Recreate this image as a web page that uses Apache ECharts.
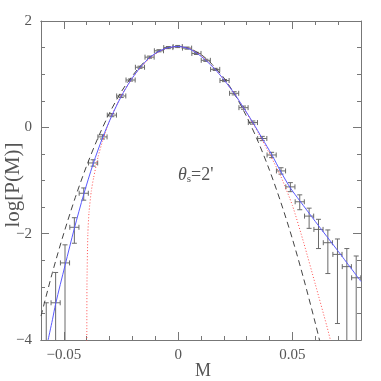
<!DOCTYPE html>
<html>
<head>
<meta charset="utf-8">
<script src="https://cdn.jsdelivr.net/npm/echarts@6/dist/echarts.min.js"></script>
<style>
  html, body { margin: 0; padding: 0; background: #fff; }
  #chart { width: 381px; height: 381px; }
</style>
</head>
<body>
<div id="chart"></div>
<script>
// binned measurements of log P(M)
const binM = [-0.0577, -0.0536, -0.0495, -0.0454, -0.0413, -0.0372, -0.0331, -0.0290, -0.0249, -0.0208,
  -0.0167, -0.0125, -0.0084, -0.0043, -0.0002, 0.0039, 0.0080, 0.0121, 0.0162, 0.0203,
  0.0245, 0.0286, 0.0327, 0.0368, 0.0409, 0.0450, 0.0491, 0.0532, 0.0573, 0.0614,
  0.0655, 0.0697, 0.0738, 0.0779]
const logP = [-4.40, -3.30, -2.55, -1.88, -1.24, -0.67, -0.18, 0.23, 0.59, 0.89,
  1.13, 1.32, 1.44, 1.50, 1.52, 1.49, 1.39, 1.26, 1.09, 0.88,
  0.64, 0.37, 0.09, -0.21, -0.52, -0.82, -1.12, -1.40, -1.67, -1.92,
  -2.17, -2.39, -2.62, -2.83]
const errHi = [-3.30, -2.73, -2.21, -1.70, -1.14, -0.61, -0.14, 0.26, 0.62, 0.91,
  1.15, 1.34, 1.46, 1.52, 1.54, 1.51, 1.41, 1.28, 1.11, 0.90,
  0.67, 0.40, 0.12, -0.17, -0.47, -0.76, -1.04, -1.27, -1.52, -1.73,
  -1.93, -2.10, -2.28, -2.42]
const errLo = [-6.00, -6.00, -6.00, -2.18, -1.37, -0.73, -0.22, 0.20, 0.56, 0.87,
  1.11, 1.30, 1.42, 1.48, 1.50, 1.47, 1.37, 1.24, 1.07, 0.86,
  0.61, 0.34, 0.06, -0.25, -0.57, -0.88, -1.21, -1.55, -1.90, -2.28,
  -2.75, -3.69, -6.00, -6.00]
const binHalf = 0.002

// model curves
const fitM = [-0.0569, -0.055, -0.0536, -0.0495, -0.0454, -0.0413, -0.0372, -0.0331, -0.029, -0.0249,
  -0.0208, -0.0167, -0.0125, -0.0084, -0.0043, -0.0002, 0.0039, 0.008, 0.0121, 0.0162,
  0.0203, 0.0245, 0.0286, 0.0327, 0.0368, 0.0409, 0.045, 0.0491, 0.0532, 0.06, 0.07, 0.08]
const fitLogP = [-4.0, -3.62, -3.32, -2.60, -1.90, -1.26, -0.69, -0.20, 0.22, 0.58,
  0.88, 1.12, 1.31, 1.43, 1.50, 1.52, 1.49, 1.40, 1.26, 1.09,
  0.88, 0.64, 0.37, 0.09, -0.21, -0.51, -0.84, -1.14, -1.38, -1.77, -2.33, -2.90]

const gaussM = [-0.06, -0.055, -0.05, -0.045, -0.04, -0.035, -0.03, -0.025, -0.02, -0.015, -0.01, -0.005, 0,
  0.005, 0.01, 0.015, 0.02, 0.025, 0.03, 0.035, 0.04, 0.045, 0.05, 0.055, 0.06, 0.0625]
const gaussLogP = [-3.55, -2.73, -1.99, -1.32, -0.72, -0.19, 0.27, 0.66, 0.97, 1.22, 1.39, 1.49, 1.52,
  1.48, 1.37, 1.18, 0.93, 0.60, 0.20, -0.27, -0.81, -1.42, -2.10, -2.86, -3.68, -4.12]

const lognM = [-0.0400, -0.0399, -0.0395, -0.039, -0.038, -0.037, -0.035, -0.033, -0.03, -0.025, -0.02, -0.015, -0.01, -0.005, 0,
  0.005, 0.01, 0.015, 0.02, 0.025, 0.03, 0.035, 0.04, 0.045, 0.05, 0.055, 0.06, 0.065, 0.0675]
const lognLogP = [-6.0, -3.0, -2.0, -1.6, -1.2, -0.95, -0.55, -0.25, 0.12, 0.59, 0.93, 1.19, 1.38, 1.49, 1.52,
  1.48, 1.35, 1.15, 0.90, 0.61, 0.27, -0.10, -0.50, -0.93, -1.47, -2.18, -2.95, -3.73, -4.15]

const xMajor = [-0.05, 0, 0.05]
const font = 'Liberation Serif'
const axisGray = '#777'
const textGray = '#555'

const zip = (a, b) => a.map((v, i) => [v, b[i]])
const minus = v => (v < 0 ? '\u2212' + Math.abs(v) : String(v))

const chart = echarts.init(document.getElementById('chart'))

const baseX = (pos, major) => ({
  type: 'value', position: pos, min: -0.06, max: 0.08,
  interval: major ? undefined : 0.01,
  axisLine: { onZero: false, lineStyle: { color: axisGray } },
  axisTick: major
    ? { inside: true, length: 8, customValues: xMajor, lineStyle: { color: axisGray } }
    : { inside: true, length: 4, lineStyle: { color: axisGray } },
  axisLabel: (major && pos === 'bottom')
    ? { customValues: xMajor, formatter: minus, color: textGray, fontFamily: font, fontSize: 15, margin: 8 }
    : { show: false },
  splitLine: { show: false }
})

const baseY = (pos) => ({
  type: 'value', position: pos, min: -4, max: 2, interval: 2,
  axisLine: { onZero: false, lineStyle: { color: axisGray } },
  axisTick: { inside: true, length: 8, lineStyle: { color: axisGray } },
  minorTick: { show: true, splitNumber: 4, length: 4, lineStyle: { color: axisGray } },
  axisLabel: pos === 'left'
    ? { formatter: minus, color: textGray, fontFamily: font, fontSize: 15, margin: 9 }
    : { show: false },
  splitLine: { show: false }
})

chart.setOption({
  animation: false,
  grid: { left: 41, right: 20, top: 21, bottom: 41, outerBoundsMode: 'none' },
  xAxis: [baseX('bottom', true), baseX('bottom', false), baseX('top', true), baseX('top', false)],
  yAxis: [baseY('left'), baseY('right')],
  series: [
    {
      type: 'line', data: zip(gaussM, gaussLogP), showSymbol: false, smooth: 0.3,
      lineStyle: { color: '#444', width: 1, type: [6, 4] }
    },
    {
      type: 'line', data: zip(lognM, lognLogP), showSymbol: false, smooth: 0.2,
      lineStyle: { color: '#ff4d4d', width: 1, type: [1, 2] }
    },
    {
      type: 'line', data: zip(fitM, fitLogP), showSymbol: false, smooth: 0.3,
      lineStyle: { color: '#5a5aff', width: 1 }
    },
    {
      type: 'custom', clip: true,
      data: binM.map((m, i) => [m, logP[i], errHi[i], errLo[i]]),
      renderItem(params, api) {
        const m = api.value(0), y = api.value(1)
        const top = api.coord([m, api.value(2)])
        const bot = api.coord([m, api.value(3)])
        const l = api.coord([m - binHalf, y])
        const r = api.coord([m + binHalf, y])
        const st = { stroke: '#6a6a6a', lineWidth: 1 }
        const seg = (x1, y1, x2, y2) => ({ type: 'line', shape: { x1, y1, x2, y2 }, style: st })
        const cap = 2.5
        return {
          type: 'group',
          children: [
            seg(top[0], top[1], bot[0], bot[1]),
            seg(top[0] - cap, top[1], top[0] + cap, top[1]),
            seg(bot[0] - cap, bot[1], bot[0] + cap, bot[1]),
            seg(l[0], l[1], r[0], r[1]),
            seg(l[0], l[1] - cap, l[0], l[1] + cap),
            seg(r[0], r[1] - cap, r[0], r[1] + cap)
          ]
        }
      }
    }
  ],
  graphic: [
    {
      type: 'text', x: 13, y: 185, rotation: Math.PI / 2,
      style: { text: 'log[P(M)]', fill: textGray, font: '21px ' + font, align: 'center', verticalAlign: 'middle' }
    },
    {
      type: 'text', left: 195, top: 362,
      style: { text: 'M', fill: textGray, font: '18px ' + font }
    },
    {
      type: 'text', left: 178, top: 166,
      style: {
        text: '{t|θ}{s|s}{e|=2\'}',
        rich: {
          t: { fontFamily: font, fontSize: 18, fontStyle: 'italic', fill: textGray },
          s: { fontFamily: font, fontSize: 11, fill: textGray, verticalAlign: 'bottom', padding: [8, 0, 0, 0] },
          e: { fontFamily: font, fontSize: 18, fill: textGray }
        }
      }
    }
  ]
})
</script>
</body>
</html>
